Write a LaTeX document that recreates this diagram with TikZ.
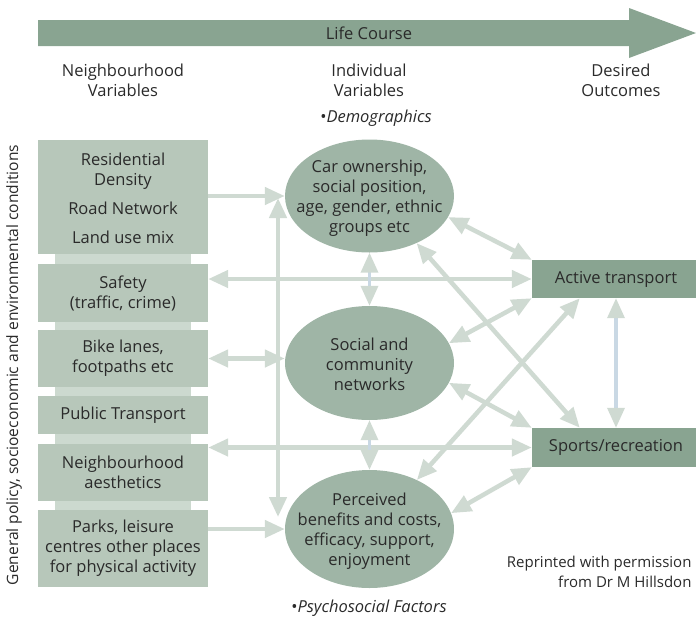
\documentclass[tikz,border=0pt]{standalone}
\usepackage{fontspec}
\setmainfont{Open Sans}
\usetikzlibrary{arrows.meta,shapes.geometric,calc}
\definecolor{dark}{HTML}{89A491}
\definecolor{lbox}{HTML}{B7C7BA}
\definecolor{strip}{HTML}{CCD9CF}
\definecolor{ell}{HTML}{9FB5A6}
\definecolor{ln}{HTML}{CFDAD2}
\definecolor{blu}{HTML}{C9D8E4}
\definecolor{txt}{HTML}{2A2A2A}
\begin{document}
\begin{tikzpicture}[x=1pt,y=-1pt,
  font=\fontsize{16.5}{20}\selectfont, text=txt,
  lb/.style={fill=lbox, minimum width=170pt, inner sep=0pt, align=center},
  el/.style={ellipse, fill=ell, minimum width=169pt, inner sep=0pt},
  rb/.style={fill=dark, minimum width=168pt, minimum height=38pt, inner sep=0pt},
  conone/.style={draw=ln, line width=4.5pt, -{Triangle[length=20pt,width=17pt]}},
  contwo/.style={draw=ln, line width=4.5pt, {Triangle[length=20pt,width=17pt]}-{Triangle[length=20pt,width=17pt]}},
  conblue/.style={draw=blu, line width=3.5pt, {Triangle[length=20pt,width=17pt,color=ln]}-{Triangle[length=20pt,width=17pt,color=ln]}},
]
\path[use as bounding box] (0,0) rectangle (696,619);
% life course arrow
\fill[dark] (38,20) -- (629,20) -- (629,8) -- (696,33) -- (629,58) -- (629,46) -- (38,46) -- cycle;
\node (lc) at (369,33) {Life Course};
\node[align=center] (nv) at (123,80) {Neighbourhood\\Variables};
\node[align=center] (iv) at (369,80) {Individual\\Variables};
\node[align=center] (do) at (621,80) {Desired\\Outcomes};
\node (dm) at (376,118) {\textbullet\textit{Demographics}};
\node[rotate=90, font=\fontsize{15.6}{20}\selectfont] (gp) at (14,365) {General policy, socioeconomic and environmental conditions};
% left column
\fill[strip] (55,140) rectangle (191,587);
\node[lb, minimum height=114pt] (b1) at (123,197) {};
\node[align=center] (b1a) at (123,171) {Residential\\Density};
\node (b1b) at (123,208) {Road Network};
\node (b1c) at (123,237) {Land use mix};
\node[lb, minimum height=58pt] (b2) at (123,293) {Safety\\(traffic, crime)};
\node[lb, minimum height=57pt] (b3) at (123,358.5) {Bike lanes,\\footpaths etc};
\node[lb, minimum height=38pt] (b4) at (123,415) {Public Transport};
\node[lb, minimum height=57pt] (b5) at (123,472.5) {Neighbourhood\\aesthetics};
\node[lb, minimum height=77pt] (b6) at (123,548.5) {Parks, leisure\\centres other places\\for physical activity};
% ellipses
\node[el, minimum height=113pt] (e1) at (369.5,196) {};
\node[align=center] (e1t) at ($(e1)+(0,2)$) {Car ownership,\\social position,\\age, gender, ethnic\\groups etc};
\node[el, minimum height=114pt] (e2) at (369.5,363) {};
\node[align=center] (e2t) at ($(e2)+(0,1)$) {Social and\\community\\networks};
\node[el, minimum height=118pt] (e3) at (369.5,529) {};
\node[align=center] (e3t) at ($(e3)+(0,2)$) {Perceived\\benefits and costs,\\efficacy, support,\\enjoyment};
% outcomes
\node[rb] (at) at (616,279) {Active transport};
\node[rb, minimum height=39pt] (sr) at (616,447.5) {Sports/recreation};
\node[align=right, anchor=east, font=\fontsize{15}{20}\selectfont] (rp) at (695,572) {Reprinted with permission\\from Dr M Hillsdon};
\node (ps) at (369,608) {\textbullet\textit{Psychosocial Factors}};
% connectors
\coordinate (v1) at (278,198);
\coordinate (v2) at (278,517);
\draw[conone] (b1.east |- e1.west) -- (e1.west);
\draw[contwo] (at.west -| b2.east) -- (at.west);
\draw[contwo] (b3.east) -- (b3.east -| e2.west);
\draw[contwo] (sr.west -| b5.east) -- (sr.west);
\draw[conone] (e3.west -| b6.east) -- (e3.west);
\draw[contwo] (v1) -- (v2);
\draw[conblue] (e1.south) -- (e2.north);
\draw[conblue] (e2.south) -- (e3.north);
\draw[conblue] (at.south) -- (sr.north);
\draw[contwo] (e1.-15) -- (at.north west);
\draw[contwo] (e2.14) -- (at.south west);
\draw[contwo] (e3.46) -- ($(at.south west)+(48,0)$);
\draw[contwo] (e1.-45) -- ($(sr.north west)+(48,0)$);
\draw[contwo] (e2.-14) -- (sr.north west);
\draw[contwo] (e3.11) -- (sr.south west);
\end{tikzpicture}
\end{document}
